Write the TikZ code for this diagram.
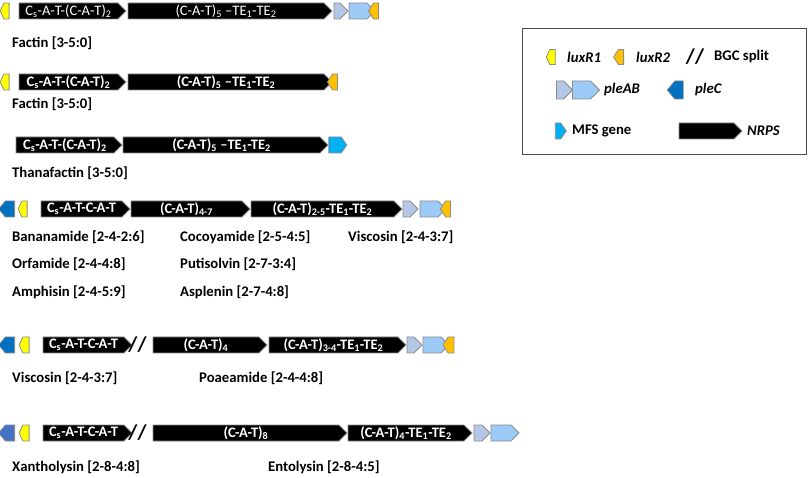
\documentclass[tikz,border=0pt]{standalone}
\usepackage{fontspec}
\setmainfont{Carlito}
\usetikzlibrary{shapes.symbols}
\usetikzlibrary{positioning}

\definecolor{luxone}{HTML}{FFFF00}
\definecolor{luxtwo}{HTML}{FFC000}
\definecolor{plea}{HTML}{B4C7E7}
\definecolor{pleb}{HTML}{9CCBF7}
\definecolor{plec}{HTML}{0070C0}
\definecolor{plecb}{HTML}{4472C4}
\definecolor{mfs}{HTML}{00B0F0}
\definecolor{geneline}{HTML}{8C8C8C}

\begin{document}
\begin{tikzpicture}[x=1pt, y=-1pt,
    gene/.style={draw=geneline, line width=0.8pt, signal, signal to=east, signal pointer angle=90, minimum height=16pt, inner sep=0pt, outer sep=0pt},
    back/.style={gene, signal to=west},
    nrps/.style={gene, fill=black, text=white, font=\bfseries\fontsize{14.5}{15}\selectfont},
    lab/.style={anchor=west, inner sep=0pt, font=\bfseries\fontsize{14.7}{16}\selectfont},
    split/.style={inner sep=0pt, font=\bfseries\fontsize{21}{21}\selectfont}]
    \useasboundingbox (0,0) rectangle (809,478);

    % row 1
    \node[back, fill=luxone, minimum width=9pt, signal pointer angle=130] (luxa1) at (6.5,11) {};
    \node[nrps, font=\fontsize{14.5}{15}\selectfont, minimum width=107pt] (nrpsa1) at (68.5,11) {C\textsubscript{s}-A-T-(C-A-T)\textsubscript{2}};
    \node[nrps, font=\fontsize{14.5}{15}\selectfont, minimum width=204pt] (nrpsb1) at (226,11) {(C-A-T)\textsubscript{5} –TE\textsubscript{1}-TE\textsubscript{2}};
    \node[gene, fill=plea, minimum width=14pt] (plea1) at (337,11) {};
    \node[gene, fill=pleb, minimum width=26pt] (pleb1) at (358,11) {};
    \node[back, fill=luxtwo, minimum width=10pt, signal pointer angle=115] (luxb1) at (376,11) {};
    \node[lab] (factin1) at (12,43) {Factin [3-5:0]};

    % row 2
    \node[back, fill=luxone, minimum width=9pt, signal pointer angle=130] (luxa2) at (6.5,82) {};
    \node[nrps, minimum width=107pt] (nrpsa2) at (68.5,82) {C\textsubscript{s}-A-T-(C-A-T)\textsubscript{2}};
    \node[nrps, minimum width=204pt] (nrpsb2) at (226,82) {(C-A-T)\textsubscript{5} –TE\textsubscript{1}-TE\textsubscript{2}};
    \node[back, fill=luxtwo, minimum width=10pt, signal pointer angle=115] (luxb2) at (335,82) {};
    \node[lab] (factin2) at (12,104) {Factin [3-5:0]};

    % row 3
    \node[nrps, minimum width=106pt] (nrpsa3) at (65,145) {C\textsubscript{s}-A-T-(C-A-T)\textsubscript{2}};
    \node[nrps, minimum width=205pt] (nrpsb3) at (221.5,145) {(C-A-T)\textsubscript{5} –TE\textsubscript{1}-TE\textsubscript{2}};
    \node[gene, fill=mfs, minimum width=18pt, signal pointer angle=110] (mfs3) at (335,145) {};
    \node[lab] (thana) at (12,173) {Thanafactin [3-5:0]};

    % row 4
    \node[back, fill=plec, minimum width=16pt, signal pointer angle=100] (plec4) at (10,209) {};
    \node[back, fill=luxone, minimum width=9pt, signal pointer angle=130] (luxa4) at (24.5,209) {};
    \node[nrps, minimum width=89pt] (nrpsa4) at (81.5,209) {C\textsubscript{s}-A-T-C-A-T};
    \node[nrps, minimum width=119pt] (nrpsb4) at (186.5,209) {(C-A-T)\textsubscript{4-7}};
    \node[nrps, minimum width=151pt] (nrpsc4) at (322.5,209) {(C-A-T)\textsubscript{2-5}-TE\textsubscript{1}-TE\textsubscript{2}};
    \node[gene, fill=plea, minimum width=15pt] (plea4) at (406.5,209) {};
    \node[gene, fill=pleb, minimum width=26pt] (pleb4) at (429,209) {};
    \node[back, fill=luxtwo, minimum width=10pt, signal pointer angle=115] (luxb4) at (448,209) {};
    \node[lab] (banana) at (12,237) {Bananamide [2-4-2:6]};
    \node[lab] (cocoya) at (180,237) {Cocoyamide [2-5-4:5]};
    \node[lab] (viscoa) at (348,237) {Viscosin [2-4-3:7]};
    \node[lab] (orfa) at (12,264) {Orfamide [2-4-4:8]};
    \node[lab] (putiso) at (180,264) {Putisolvin [2-7-3:4]};
    \node[lab] (amphi) at (12,292) {Amphisin [2-4-5:9]};
    \node[lab] (asple) at (180,292) {Asplenin [2-7-4:8]};

    % row 5
    \node[back, fill=plec, minimum width=16pt, signal pointer angle=100] (plec5) at (10,345) {};
    \node[back, fill=luxone, minimum width=10pt, signal pointer angle=130] (luxa5) at (26,345) {};
    \node[nrps, minimum width=89pt] (nrpsa5) at (83.5,345) {C\textsubscript{s}-A-T-C-A-T};
    \node[split] (split5) at (137.5,345) {//};
    \node[nrps, minimum width=114pt] (nrpsb5) at (206,345) {(C-A-T)\textsubscript{4}};
    \node[nrps, minimum width=137pt] (nrpsc5) at (333.5,345) {(C-A-T)\textsubscript{3-4}-TE\textsubscript{1}-TE\textsubscript{2}};
    \node[gene, fill=plea, minimum width=15pt] (plea5) at (410.5,345) {};
    \node[gene, fill=pleb, minimum width=26pt] (pleb5) at (432,345) {};
    \node[back, fill=luxtwo, minimum width=11pt, signal pointer angle=115] (luxb5) at (451,345) {};
    \node[lab] (viscob) at (12,378) {Viscosin [2-4-3:7]};
    \node[lab] (poaea) at (199,378) {Poaeamide [2-4-4:8]};

    % row 6
    \node[back, fill=plecb, minimum width=16pt, signal pointer angle=100] (plec6) at (10,433) {};
    \node[back, fill=luxone, minimum width=10pt, signal pointer angle=130] (luxa6) at (26,433) {};
    \node[nrps, minimum width=89pt] (nrpsa6) at (83.5,433) {C\textsubscript{s}-A-T-C-A-T};
    \node[split] (split6) at (137.5,433) {//};
    \node[nrps, minimum width=194pt] (nrpsb6) at (246,433) {(C-A-T)\textsubscript{8}};
    \node[nrps, minimum width=124pt] (nrpsc6) at (406,433) {(C-A-T)\textsubscript{4}-TE\textsubscript{1}-TE\textsubscript{2}};
    \node[gene, fill=plea, minimum width=16pt] (plea6) at (478,433) {};
    \node[gene, fill=pleb, minimum width=28pt] (pleb6) at (501,433) {};
    \node[lab] (xantho) at (12,467) {Xantholysin [2-8-4:8]};
    \node[lab] (entoly) at (268,467) {Entolysin [2-8-4:5]};

    % legend
    \draw[draw=black!70, line width=0.8pt] (522,28) rectangle (806,154);
    \node[back, fill=luxone, minimum width=9pt, minimum height=15pt, signal pointer angle=130] (keyluxa) at (552.5,57) {};
    \node[lab, font=\bfseries\itshape\fontsize{14.7}{16}\selectfont] (keyluxatxt) at (567,57) {luxR1};
    \node[back, fill=luxtwo, minimum width=10pt, minimum height=15pt, signal pointer angle=115] (keyluxb) at (621,57) {};
    \node[lab, font=\bfseries\itshape\fontsize{14.7}{16}\selectfont] (keyluxbtxt) at (636,57) {luxR2};
    \node[split] (keysplit) at (695,57) {//};
    \node[lab] (keysplittxt) at (714,57) {BGC split};
    \node[gene, fill=plea, minimum width=16pt, minimum height=18pt] (keyplea) at (560,90) {};
    \node[gene, fill=pleb, minimum width=27pt, minimum height=18pt] (keypleb) at (581.5,90) {};
    \node[lab, font=\bfseries\itshape\fontsize{14.7}{16}\selectfont] (keypleabtxt) at (604,90) {pleAB};
    \node[back, fill=plec, minimum width=16pt, minimum height=18pt, signal pointer angle=100] (keyplec) at (679,90) {};
    \node[lab, font=\bfseries\itshape\fontsize{14.7}{16}\selectfont] (keyplectxt) at (695,90) {pleC};
    \node[gene, fill=mfs, minimum width=11pt, signal pointer angle=110] (keymfs) at (558,131) {};
    \node[lab] (keymfstxt) at (572,131) {MFS gene};
    \node[gene, fill=black, minimum width=63pt] (keynrps) at (706.5,131) {};
    \node[lab, font=\bfseries\itshape\fontsize{14.7}{16}\selectfont] (keynrpstxt) at (747,131) {NRPS};
\end{tikzpicture}
\end{document}
